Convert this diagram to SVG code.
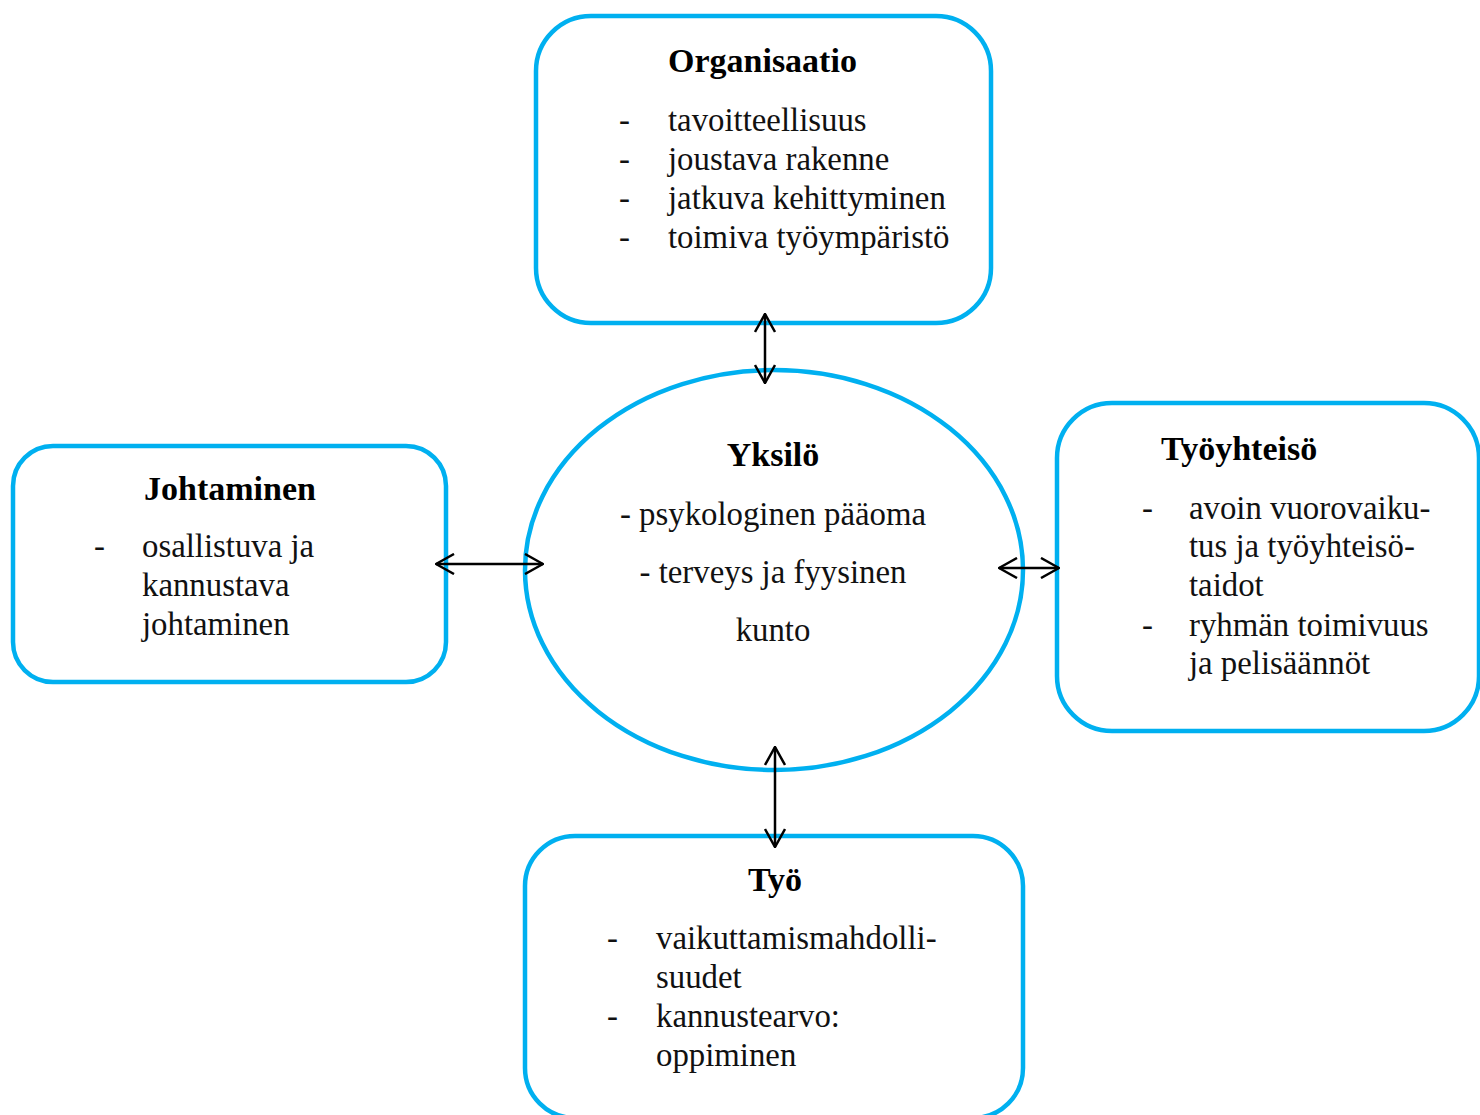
<svg xmlns="http://www.w3.org/2000/svg" width="1480" height="1115" viewBox="0 0 1480 1115">
<style>
.box{fill:#fff;stroke:#00B0F0;stroke-width:4.5}
.t{font-family:"Liberation Serif","DejaVu Serif",serif;font-size:32.8px;fill:#111}
.h{font-family:"Liberation Serif","DejaVu Serif",serif;font-size:34px;font-weight:bold;fill:#000}
.c{text-anchor:middle}
.ar{fill:none;stroke:#000;stroke-width:2.5}
</style>
<defs>
<marker id="ah" viewBox="0 0 20 22" refX="19" refY="11" markerWidth="20" markerHeight="22" markerUnits="userSpaceOnUse" orient="auto-start-reverse">
<path d="M1,1 L19,11 L1,21" fill="none" stroke="#000" stroke-width="2.5"/>
</marker>
</defs>
<rect width="1480" height="1115" fill="#fff"/>
<g id="organisaatio">
<rect class="box" x="536" y="16" width="455" height="307" rx="55"/>
<text class="h" x="668" y="72">Organisaatio</text>
<text class="t" x="619" y="131">-</text><text class="t" x="668" y="131">tavoitteellisuus</text>
<text class="t" x="619" y="170">-</text><text class="t" x="668" y="170">joustava rakenne</text>
<text class="t" x="619" y="209">-</text><text class="t" x="668" y="209">jatkuva kehittyminen</text>
<text class="t" x="619" y="248">-</text><text class="t" x="668" y="248">toimiva työympäristö</text>
</g>
<g id="yksilo">
<ellipse class="box" cx="774" cy="570" rx="249" ry="200"/>
<text class="h c" x="773" y="466">Yksilö</text>
<text class="t c" x="773" y="525">- psykologinen pääoma</text>
<text class="t c" x="773" y="583">- terveys ja fyysinen</text>
<text class="t c" x="773" y="641">kunto</text>
</g>
<g id="johtaminen">
<rect class="box" x="13" y="446" width="433" height="236" rx="40"/>
<text class="h" x="144" y="500">Johtaminen</text>
<text class="t" x="94" y="557">-</text><text class="t" x="142" y="557">osallistuva ja</text>
<text class="t" x="142" y="596">kannustava</text>
<text class="t" x="142" y="635">johtaminen</text>
</g>
<g id="tyoyhteiso">
<rect class="box" x="1057" y="403" width="422" height="328" rx="55"/>
<text class="h" x="1161" y="460">Työyhteisö</text>
<text class="t" x="1142" y="519">-</text><text class="t" x="1189" y="519">avoin vuorovaiku-</text>
<text class="t" x="1189" y="557">tus ja työyhteisö-</text>
<text class="t" x="1189" y="596">taidot</text>
<text class="t" x="1142" y="636">-</text><text class="t" x="1189" y="636">ryhmän toimivuus</text>
<text class="t" x="1189" y="674">ja pelisäännöt</text>
</g>
<g id="tyo">
<rect class="box" x="525" y="836" width="498" height="282" rx="50"/>
<text class="h c" x="775" y="891">Työ</text>
<text class="t" x="607" y="949">-</text><text class="t" x="656" y="949">vaikuttamismahdolli-</text>
<text class="t" x="656" y="988">suudet</text>
<text class="t" x="607" y="1027">-</text><text class="t" x="656" y="1027">kannustearvo:</text>
<text class="t" x="656" y="1066">oppiminen</text>
</g>
<g id="connectors">
<line class="ar" x1="765" y1="314" x2="765" y2="383" marker-start="url(#ah)" marker-end="url(#ah)"/>
<line class="ar" x1="436" y1="564" x2="543" y2="564" marker-start="url(#ah)" marker-end="url(#ah)"/>
<line class="ar" x1="999" y1="568" x2="1059" y2="568" marker-start="url(#ah)" marker-end="url(#ah)"/>
<line class="ar" x1="775" y1="747" x2="775" y2="847" marker-start="url(#ah)" marker-end="url(#ah)"/>
</g>
</svg>
